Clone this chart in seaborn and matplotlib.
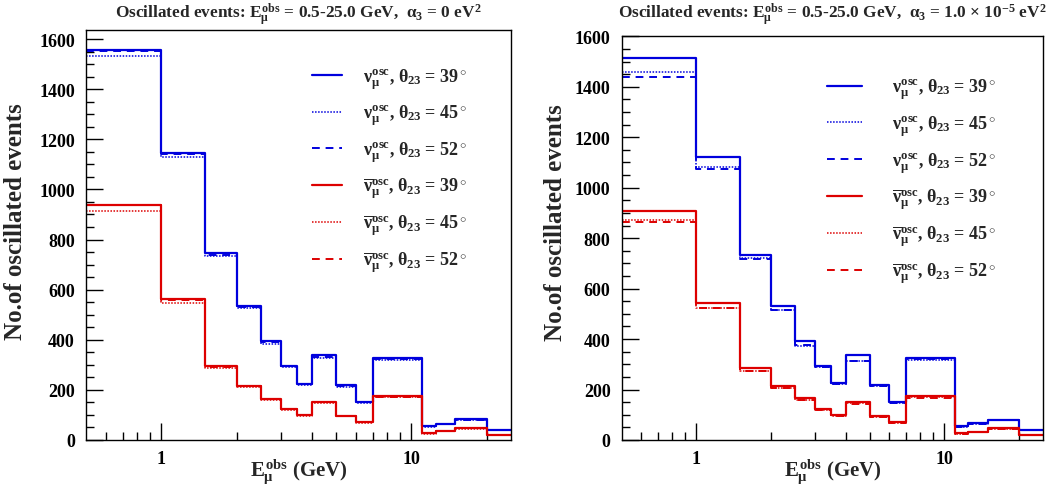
import numpy as np
import matplotlib
matplotlib.use("Agg")
import matplotlib.pyplot as plt
import seaborn as sns
from matplotlib.ticker import MultipleLocator, FixedLocator, NullFormatter, FixedFormatter

# ---------------- data ----------------
bin_edges = [0.5, 1, 1.5, 2, 2.5, 3, 3.5, 4, 5, 6, 7, 11, 12.5, 15, 20, 25]

# alpha_3 = 0
nu39_a0 = [1557, 1145, 745, 536, 396, 296, 224, 340, 219, 153, 326, 57, 65, 82, 40]
nu45_a0 = [1531, 1128, 735, 525, 385, 291, 221, 326, 213, 148, 320, 50, 62, 80, 38]
nu52_a0 = [1553, 1140, 740, 530, 390, 294, 222, 333, 216, 151, 323, 54, 64, 81, 39]
anu39_a0 = [938, 561, 294, 217, 164, 124, 100, 153, 97, 71, 174, 28, 36, 47, 20]
anu45_a0 = [915, 545, 286, 212, 160, 121, 97, 149, 94, 68, 171, 25, 34, 45, 19]
anu52_a0 = [936, 558, 291, 215, 162, 123, 99, 151, 96, 70, 173, 27, 35, 46, 20]

# alpha_3 = 1e-5
nu39_a1 = [1513, 1120, 733, 532, 394, 295, 225, 338, 218, 152, 326, 57, 66, 81, 41]
nu45_a1 = [1460, 1081, 720, 516, 374, 291, 221, 312, 213, 146, 318, 50, 62, 79, 38]
nu52_a1 = [1440, 1074, 718, 515, 376, 290, 221, 314, 213, 146, 319, 51, 62, 79, 38]
anu39_a1 = [906, 542, 284, 215, 165, 123, 98, 150, 96, 70, 173, 28, 33, 46, 20]
anu45_a1 = [873, 522, 273, 206, 158, 118, 94, 145, 92, 66, 169, 24, 30, 43, 18]
anu52_a1 = [865, 522, 272, 205, 157, 118, 94, 144, 92, 66, 168, 24, 30, 43, 18]

labels = [r"$\nu_{\mu}^{osc}$, $\theta_{23}$ = 39$^\circ$",
          r"$\nu_{\mu}^{osc}$, $\theta_{23}$ = 45$^\circ$",
          r"$\nu_{\mu}^{osc}$, $\theta_{23}$ = 52$^\circ$",
          r"$\overline{\nu}_{\mu}^{osc}$, $\theta_{23}$ = 39$^\circ$",
          r"$\overline{\nu}_{\mu}^{osc}$, $\theta_{23}$ = 45$^\circ$",
          r"$\overline{\nu}_{\mu}^{osc}$, $\theta_{23}$ = 52$^\circ$"]

titles = [r"Oscillated events: $E_{\mu}^{obs}$ = 0.5-25.0 GeV,  $\alpha_3$ = 0 eV$^2$",
          r"Oscillated events: $E_{\mu}^{obs}$ = 0.5-25.0 GeV,  $\alpha_3$ = 1.0 $\times$ 10$^{-5}$ eV$^2$"]

# ---------------- style ----------------
sns.set_theme(style="white")
plt.rcParams["font.family"] = ["Liberation Serif", "DejaVu Serif"]
plt.rcParams["font.weight"] = "bold"
plt.rcParams["mathtext.fontset"] = "custom"
plt.rcParams["mathtext.rm"] = "Liberation Serif:bold"
plt.rcParams["mathtext.it"] = "Liberation Serif:bold"
plt.rcParams["mathtext.bf"] = "Liberation Serif:bold"

BLUE = "#0000dd"
RED = "#dd0000"
styles = [(BLUE, "-", 1.6), (BLUE, (0, (1, 1)), 1.1), (BLUE, (0, (4, 3)), 1.4),
          (RED, "-", 1.6), (RED, (0, (1, 1)), 1.1), (RED, (0, (4, 3)), 1.4)]

fig = plt.figure(figsize=(10.56, 4.89), dpi=100)
ax_l = fig.add_axes([0.0814, 0.0982, 0.4025, 0.8384])
ax_r = fig.add_axes([0.5887, 0.0982, 0.3990, 0.8255])

edges = np.array(bin_edges)
centers = np.sqrt(edges[:-1] * edges[1:])

panels = [
    # ax, series, ymax, legend anchor, handlelength, handletextpad, title, title x, ylabel x, ylabel y
    (ax_l, [nu39_a0, nu45_a0, nu52_a0, anu39_a0, anu45_a0, anu52_a0], 1636,
     (0.532, 0.657), 1.65, 1.15, titles[0], 298 / 1056, -0.165, 0.535),
    (ax_r, [nu39_a1, nu45_a1, nu52_a1, anu39_a1, anu45_a1, anu52_a1], 1600,
     (0.488, 0.641), 1.95, 1.65, titles[1], 832 / 1056, -0.158, 0.54),
]

for ax, series, ymax, leg_anchor, hl, htp, title, tx, ylx, yly in panels:
    for vals, lab, (c, ls, lw) in zip(series, labels, styles):
        sns.histplot(x=centers, weights=vals, bins=list(bin_edges), element="step", fill=False,
                     color=c, linestyle=ls, linewidth=lw, ax=ax, label=lab)
    ax.set_xscale("log")
    ax.set_xlim(0.5, 25)
    ax.set_ylim(0, ymax)
    ax.yaxis.set_major_locator(MultipleLocator(200))
    ax.yaxis.set_minor_locator(MultipleLocator(50))
    ax.xaxis.set_major_locator(FixedLocator([1, 10]))
    ax.xaxis.set_major_formatter(FixedFormatter(["1", "10"]))
    minors = [0.6, 0.7, 0.8, 0.9, 2, 3, 4, 5, 6, 7, 8, 9, 20]
    ax.xaxis.set_minor_locator(FixedLocator(minors))
    ax.xaxis.set_minor_formatter(NullFormatter())
    ax.tick_params(axis="both", which="both", direction="in", top=False, right=False,
                   left=True, bottom=True, colors="black", labelsize=13, width=1)
    ax.tick_params(axis="y", which="major", length=12, pad=8)
    ax.tick_params(axis="y", which="minor", length=6)
    ax.tick_params(axis="x", which="major", length=12, pad=7)
    ax.tick_params(axis="x", which="minor", length=6)
    for lbl in ax.get_xticklabels() + ax.get_yticklabels():
        lbl.set_fontweight("bold")
    for s in ax.spines.values():
        s.set_color("black")
        s.set_linewidth(1.0)
    ax.set_ylabel("No.of oscillated events", fontsize=18, fontweight="bold")
    ax.yaxis.set_label_coords(ylx, yly)
    ax.yaxis.label.set_va("center")
    ax.set_xlabel(r"$E_{\mu}^{obs}$ (GeV)", fontsize=15, fontweight="bold")
    ax.xaxis.set_label_coords(0.5, -0.075)
    ax.xaxis.label.set_va("center")
    fig.text(tx, 0.969, title, fontsize=12.4, fontweight="bold", ha="center", va="center")
    ax.legend(loc="center left", bbox_to_anchor=leg_anchor, frameon=False, fontsize=13,
              handlelength=hl, handletextpad=htp, labelspacing=0.66, borderpad=0,
              borderaxespad=0)

fig.savefig("out.png", dpi=100)
